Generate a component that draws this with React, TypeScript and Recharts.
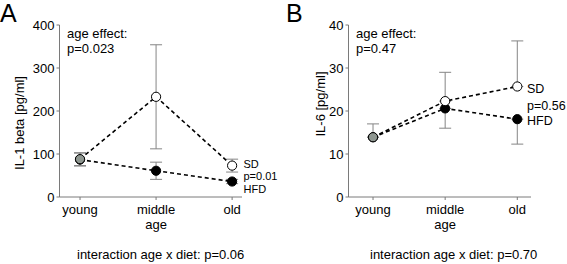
import React from "react";
import { LineChart, Line, XAxis, YAxis, ErrorBar } from "recharts";

// categories
const ageGroups = ["young", "middle age", "old"];
const tickLines = [["young"], ["middle", "age"], ["old"]];

// panel A: IL-1 beta
const il1Ticks = [0, 100, 200, 300, 400];
const il1SD = [88, 233, 73];
const il1SDErr = [15, 121, 15];
const il1HFD = [87, 61, 36];
const il1HFDErr = [15, 20, 5];

// panel B: IL-6 (SD whiskers up, HFD whiskers down)
const il6Ticks = [0, 10, 20, 30, 40];
const il6SD = [13.9, 22.3, 25.7];
const il6SDErr = [[0, 3.1], [0, 6.7], [0, 10.6]];
const il6HFD = [13.9, 20.6, 18.1];
const il6HFDErr = [[0, 0], [4.6, 0], [5.8, 0]];

const FONT = "'Liberation Sans', Arial, Helvetica, sans-serif";
const AXIS = "#7a7a7a";
const ERR = "#858585";
const YOUNG = "#8e9690";

const buildRows = (sd: number[], sdErr: any[], hfd: number[], hfdErr: any[]) =>
  ageGroups.map((g, i) => ({ x: i, group: g, sd: sd[i], sdErr: sdErr[i], hfd: hfd[i], hfdErr: hfdErr[i] }));

const rowsA = buildRows(il1SD, il1SDErr, il1HFD, il1HFDErr);
const rowsB = buildRows(il6SD, il6SDErr, il6HFD, il6HFDErr);

const makeDot = (fill: string) => (p: any) => (
  <circle
    key={`d-${p.index}`}
    cx={p.cx}
    cy={p.cy}
    r={4.6}
    fill={p.index === 0 ? YOUNG : fill}
    stroke="#000"
    strokeWidth={1}
  />
);

const AgeTick = (p: any) => {
  const lines = tickLines[p.payload.value] || [];
  return (
    <text x={p.x} y={p.y} textAnchor="middle" fontFamily={FONT} fontSize={13} fill="#000">
      {lines.map((l, i) => (
        <tspan key={i} x={p.x} dy={i === 0 ? 14 : 15}>
          {l}
        </tspan>
      ))}
    </text>
  );
};

type PanelProps = {
  rows: any[];
  yTicks: number[];
  yWidth: number;
  right: number;
  xDomain: [number, number];
};

const Panel = ({ rows, yTicks, yWidth, right, xDomain }: PanelProps) => (
  <LineChart width={284} height={264} data={rows} margin={{ top: 25, right, left: 0, bottom: 37 }}>
    <XAxis
      dataKey="x"
      type="number"
      domain={xDomain}
      allowDataOverflow
      ticks={[0, 1, 2]}
      height={30}
      stroke={AXIS}
      tickSize={3}
      tickMargin={0}
      tick={<AgeTick />}
    />
    <YAxis
      domain={[yTicks[0], yTicks[yTicks.length - 1]]}
      ticks={yTicks}
      width={yWidth}
      stroke={AXIS}
      tickSize={3}
      tickMargin={2}
      tick={{ fill: "#000", fontSize: 13, fontFamily: FONT }}
    />
    <Line
      dataKey="hfd"
      stroke="#000"
      strokeWidth={1.6}
      strokeDasharray="4 3"
      dot={makeDot("#000")}
      isAnimationActive={false}
    >
      <ErrorBar dataKey="hfdErr" direction="y" width={6} stroke={ERR} strokeWidth={1} />
    </Line>
    <Line
      dataKey="sd"
      stroke="#000"
      strokeWidth={1.6}
      strokeDasharray="4 3"
      dot={makeDot("#fff")}
      isAnimationActive={false}
    >
      <ErrorBar dataKey="sdErr" direction="y" width={6} stroke={ERR} strokeWidth={1} />
    </Line>
  </LineChart>
);

const T = (props: any) => <text fontFamily={FONT} fontSize={13} fill="#000" {...props} />;

export default function App() {
  return (
    <div style={{ position: "absolute", left: 0, top: 0, width: 567, height: 264, background: "#fff", overflow: "hidden" }}>
      <div style={{ position: "absolute", left: 0, top: 0 }}>
        <Panel rows={rowsA} yTicks={il1Ticks} yWidth={59.5} right={42} xDomain={[-0.27, 2.13]} />
      </div>
      <div style={{ position: "absolute", left: 283, top: 0 }}>
        <Panel rows={rowsB} yTicks={il6Ticks} yWidth={65.5} right={36} xDomain={[-0.34, 2.19]} />
      </div>
      <svg width={567} height={264} style={{ position: "absolute", left: 0, top: 0, pointerEvents: "none" }}>
        <T x={0} y={22} fontSize={25}>A</T>
        <T x={286} y={22} fontSize={25}>B</T>

        <T x={67} y={37.5}>age effect:</T>
        <T x={67} y={52.5}>p=0.023</T>
        <T x={356} y={37.5}>age effect:</T>
        <T x={356} y={52.5}>p=0.47</T>

        <T x={243.5} y={167.5} fontSize={11}>SD</T>
        <T x={243.5} y={180} fontSize={11}>p=0.01</T>
        <T x={243.5} y={192.5} fontSize={11}>HFD</T>
        <T x={527} y={93} fontSize={12.5}>SD</T>
        <T x={527} y={110} fontSize={12.5}>p=0.56</T>
        <T x={527} y={125} fontSize={12.5}>HFD</T>

        <T x={19} y={123} textAnchor="middle" dominantBaseline="central" transform="rotate(-90 19 123)">
          IL-1 beta [pg/ml]
        </T>
        <T x={320} y={104} textAnchor="middle" dominantBaseline="central" transform="rotate(-90 320 104)">
          IL-6 [pg/ml]
        </T>

        <T x={77} y={259}>interaction age x diet: p=0.06</T>
        <T x={370} y={259}>interaction age x diet: p=0.70</T>
      </svg>
    </div>
  );
}
